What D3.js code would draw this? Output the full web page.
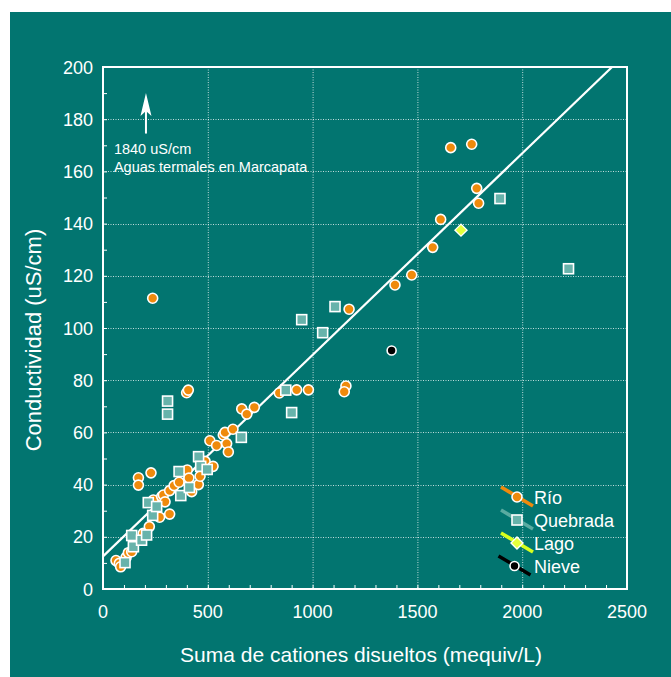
<!DOCTYPE html>
<html>
<head>
<meta charset="utf-8">
<script src="https://cdn.jsdelivr.net/npm/d3@7"></script>
<style>
  html, body { margin: 0; padding: 0; background: #ffffff; }
  svg { display: block; }
  text { font-family: "Liberation Sans", Arial, Helvetica, sans-serif; fill: #ffffff; }
</style>
</head>
<body>
<svg id="chart" width="671" height="677"></svg>
<script>
// Río samples: total dissolved cations (mequiv/L) vs conductivity (uS/cm)
const rioX = [62, 78, 84, 110, 121, 137, 169, 169, 192, 221, 229, 237, 240, 270, 280, 288, 296, 318, 318, 339,
              363, 402, 410, 423, 455, 463, 487, 525, 399, 407, 510, 542, 574, 582, 590, 598, 620, 662, 686, 722,
              841, 924, 980, 1159, 1151, 1174, 1393, 1473, 1573, 1611, 1659, 1759, 1783, 1792];
const rioY = [10.9, 9.8, 8.5, 12.1, 13.9, 14.3, 42.6, 39.8, 21.3, 23.9, 44.5, 111.4, 34.1, 27.5, 35.4, 36.0, 33.4, 28.7, 37.7, 39.6,
              40.9, 45.6, 42.5, 37.3, 40.0, 43.2, 48.9, 47.0, 75.2, 76.2, 56.8, 55.0, 59.0, 60.0, 55.7, 52.5, 61.2, 69.0, 67.0, 69.6,
              75.1, 76.3, 76.3, 77.8, 75.6, 107.2, 116.5, 120.3, 130.9, 141.6, 169.1, 170.4, 153.5, 147.8];

// Quebrada samples
const quebradaX = [105, 137, 145, 184, 208, 216, 237, 256, 308, 308, 363, 371, 412, 456, 466, 497, 660, 872, 900, 948, 1048, 1107, 1894, 2221];
const quebradaY = [10.1, 20.5, 16.2, 18.7, 20.7, 33.1, 28.2, 31.6, 72.0, 67.0, 45.0, 35.8, 38.9, 50.7, 47.0, 45.8, 58.1, 76.2, 67.6, 103.2, 98.2, 108.2, 149.6, 122.7];

// Lago and Nieve samples
const lagoX = [1708];
const lagoY = [137.5];
const nieveX = [1377];
const nieveY = [91.4];

// Linear fit: conductividad = intercept + slope * cationes
const fitIntercept = 12.5;
const fitSlope = 0.0772;

// Axis ticks
const xTicks = [0, 500, 1000, 1500, 2000, 2500];
const yTicks = [0, 20, 40, 60, 80, 100, 120, 140, 160, 180, 200];

// Annotation for the off-scale thermal water sample
const noteLines = ["1840 uS/cm", "Aguas termales en Marcapata"];
const noteArrowX = 205;
const noteArrowFrom = 174.5;
const noteArrowTo = 190;
const noteTextX = 52;

const legendItems = [
  { label: "Río", kind: "rio" },
  { label: "Quebrada", kind: "quebrada" },
  { label: "Lago", kind: "lago" },
  { label: "Nieve", kind: "nieve" }
];

const colors = {
  bg: "#027570",
  rio: "#ef8a0c",
  quebrada: "#67b3ab",
  quebradaLine: "#5aaba1",
  lago: "#e4ff3c",
  lagoLine: "#d8ff1e",
  nieve: "#000000"
};

const svg = d3.select("#chart");
const W = 671, H = 677;
const plot = { left: 103, right: 627, top: 67, bottom: 589 };

// panel background
svg.append("rect").attr("x", 10).attr("y", 12).attr("width", W - 10).attr("height", H - 12).attr("fill", colors.bg);

const x = d3.scaleLinear().domain([0, 2500]).range([plot.left, plot.right]);
const y = d3.scaleLinear().domain([0, 200]).range([plot.bottom, plot.top]);

// dotted grid
const grid = svg.append("g").attr("stroke", "#ffffff").attr("stroke-opacity", 0.75)
  .attr("stroke-width", 1).attr("stroke-dasharray", "1,1.5");
grid.selectAll(".gx").data(xTicks.slice(1, -1)).join("line")
  .attr("x1", d => x(d) + 0.5).attr("x2", d => x(d) + 0.5)
  .attr("y1", plot.top).attr("y2", plot.bottom);
grid.selectAll(".gy").data(yTicks.slice(1, -1)).join("line")
  .attr("y1", d => Math.round(y(d)) + 0.5).attr("y2", d => Math.round(y(d)) + 0.5)
  .attr("x1", plot.left).attr("x2", plot.right);

// axes with inward minor ticks
const xAxis = d3.axisBottom(x).tickValues(d3.range(0, 2501, 100)).tickSize(-4).tickFormat("");
const yAxis = d3.axisLeft(y).tickValues(d3.range(0, 201, 10)).tickSize(-4).tickFormat("");
svg.append("g").attr("transform", `translate(0,${plot.bottom})`).call(xAxis)
  .call(g => g.select(".domain").remove())
  .call(g => g.selectAll("line").attr("stroke", "#ffffff").attr("stroke-width", 1));
svg.append("g").attr("transform", `translate(${plot.left},0)`).call(yAxis)
  .call(g => g.select(".domain").remove())
  .call(g => g.selectAll("line").attr("stroke", "#ffffff").attr("stroke-width", 1));

// tick labels
svg.append("g").selectAll("text").data(xTicks).join("text")
  .attr("x", d => x(d)).attr("y", plot.bottom + 29)
  .attr("text-anchor", "middle").attr("font-size", 18).text(d => d);
svg.append("g").selectAll("text").data(yTicks).join("text")
  .attr("x", plot.left - 10).attr("y", d => y(d) + 6.5)
  .attr("text-anchor", "end").attr("font-size", 18).text(d => d);

// axis titles
svg.append("text").attr("x", (plot.left + plot.right) / 2 - 4).attr("y", 662)
  .attr("text-anchor", "middle").attr("font-size", 21)
  .text("Suma de cationes disueltos (mequiv/L)");
svg.append("text").attr("transform", `translate(41,${(plot.top + plot.bottom) / 2 + 12}) rotate(-90)`)
  .attr("text-anchor", "middle").attr("font-size", 22)
  .text("Conductividad (uS/cm)");

// clip region for data marks
svg.append("clipPath").attr("id", "plotClip").append("rect")
  .attr("x", plot.left).attr("y", plot.top)
  .attr("width", plot.right - plot.left).attr("height", plot.bottom - plot.top);

// regression line
const fitEnd = (200 - fitIntercept) / fitSlope;
svg.append("line").attr("clip-path", "url(#plotClip)")
  .attr("x1", x(0)).attr("y1", y(fitIntercept))
  .attr("x2", x(fitEnd)).attr("y2", y(fitIntercept + fitSlope * fitEnd))
  .attr("stroke", "#ffffff").attr("stroke-width", 2.2);

// annotation arrow and text
const ax = x(noteArrowX), ay0 = y(noteArrowFrom), ay1 = y(noteArrowTo);
svg.append("line").attr("x1", ax).attr("x2", ax).attr("y1", ay0).attr("y2", ay1 + 10)
  .attr("stroke", "#ffffff").attr("stroke-width", 2);
svg.append("path")
  .attr("d", `M${ax},${ay1} L${ax + 5.5},${ay1 + 23} L${ax},${ay1 + 18} L${ax - 5.5},${ay1 + 23} Z`)
  .attr("fill", "#ffffff");
svg.append("g").selectAll("text").data(noteLines).join("text")
  .attr("x", x(noteTextX)).attr("y", (d, i) => y(noteArrowFrom) + 20 + i * 18)
  .attr("font-size", 14.5).text(d => d);

// marker builders
function circle(g, fill, r) {
  return g.append("circle").attr("r", r).attr("fill", fill).attr("stroke", "#ffffff").attr("stroke-width", 1.6);
}
function square(g) {
  return g.append("rect").attr("x", -5).attr("y", -5).attr("width", 10).attr("height", 10)
    .attr("fill", colors.quebrada).attr("stroke", "#ffffff").attr("stroke-width", 1.6);
}
function diamond(g) {
  return g.append("path").attr("d", "M0,-6 L6,0 L0,6 L-6,0 Z")
    .attr("fill", colors.lago).attr("stroke", "#ffffff").attr("stroke-width", 1.4);
}

const marks = svg.append("g").attr("clip-path", "url(#plotClip)");
marks.selectAll(".rio").data(d3.range(rioX.length)).join("g")
  .attr("transform", i => `translate(${x(rioX[i])},${y(rioY[i])})`)
  .each(function () { circle(d3.select(this), colors.rio, 5); });
marks.selectAll(".queb").data(d3.range(quebradaX.length)).join("g")
  .attr("transform", i => `translate(${x(quebradaX[i])},${y(quebradaY[i])})`)
  .each(function () { square(d3.select(this)); });
marks.selectAll(".lago").data(d3.range(lagoX.length)).join("g")
  .attr("transform", i => `translate(${x(lagoX[i])},${y(lagoY[i])})`)
  .each(function () { diamond(d3.select(this)); });
marks.selectAll(".nieve").data(d3.range(nieveX.length)).join("g")
  .attr("transform", i => `translate(${x(nieveX[i])},${y(nieveY[i])})`)
  .each(function () { circle(d3.select(this), colors.nieve, 4.5); });

// plot frame
svg.append("rect").attr("x", plot.left).attr("y", plot.top)
  .attr("width", plot.right - plot.left).attr("height", plot.bottom - plot.top)
  .attr("fill", "none").attr("stroke", "#ffffff").attr("stroke-width", 2);

// legend
const legend = svg.append("g").attr("transform", "translate(517,497)");
const lineColor = { rio: colors.rio, quebrada: colors.quebradaLine, lago: colors.lagoLine, nieve: colors.nieve };
legendItems.forEach((item, i) => {
  const row = legend.append("g").attr("transform", `translate(${item.kind === "nieve" ? -2.5 : 0},${i * 23})`);
  row.append("line").attr("x1", -16).attr("y1", -10).attr("x2", 16).attr("y2", 9)
    .attr("stroke", lineColor[item.kind]).attr("stroke-width", 3.5);
  if (item.kind === "rio") circle(row, colors.rio, 5);
  else if (item.kind === "quebrada") square(row);
  else if (item.kind === "lago") diamond(row);
  else circle(row, colors.nieve, 4.5);
  row.append("text").attr("x", item.kind === "nieve" ? 19.5 : 17).attr("y", 6.5).attr("font-size", 18).text(item.label);
});
</script>
</body>
</html>
